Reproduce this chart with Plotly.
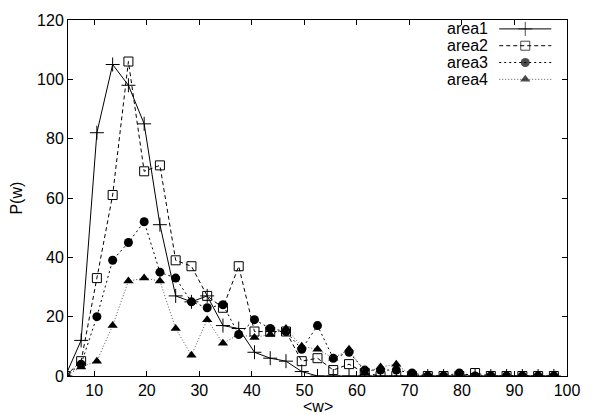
import plotly.graph_objects as go

# ---- data ----
w = [4.5, 7.5, 10.5, 13.5, 16.5, 19.5, 22.5, 25.5, 28.5, 31.5, 34.5, 37.5, 40.5, 43.5,
     46.5, 49.5, 52.5, 55.5, 58.5, 61.5, 64.5, 67.5, 70.5, 73.5, 76.5, 79.5, 82.5,
     85.5, 88.5, 91.5, 94.5, 97.5]
area1 = [0, 12, 82, 105, 98, 85, 51, 27, 25, 27, 17, 16, 8, 6, 5, 1.5, 0, 0, 0, 0,
         0, 0, 0, 0, 0, 0, 0, 0, 0, 0, 0, 0]
area2 = [0, 5, 33, 61, 106, 69, 71, 39, 37, 27, 23, 37, 15, 15, 15, 5, 6, 2, 4, 1,
         0, 0, 0, 0, 0, 0, 1, 0, 0, 0, 0, 0]
area3 = [0, 4, 20, 39, 45, 52, 35, 33, 25, 23, 24, 14, 19, 16, 15, 9, 17, 6, 8, 2,
         2, 2, 1, 0, 0, 1, 0, 0, 0, 0, 0, 0]
area4 = [0, 3, 5, 17, 32, 33, 32, 16, 7, 19, 11, 14, 13, 14, 16, 10, 9, 6, 9, 1,
         3, 4, 0, 0, 0, 0, 0, 0, 0, 0, 0, 0]
names = ["area1", "area2", "area3", "area4"]
xticks = [10, 20, 30, 40, 50, 60, 70, 80, 90, 100]
yticks = [0, 20, 40, 60, 80, 100, 120]

# ---- styles ----
styles = [
    dict(dash="solid", color="black", width=1, symbol="cross-thin-open", msize=10, mline=1),
    dict(dash="4px,3px", color="black", width=1, symbol="square-open", msize=9, mline=1),
    dict(dash="2px,3px", color="black", width=1, symbol="circle", msize=9, mline=0),
    dict(dash="1px,2px", color="#555555", width=1, symbol="triangle-up", msize=9, mline=0),
]
series = [area1, area2, area3, area4]

L, R, T, B = 68, 576, 16, 376
FS = 16
fig = go.Figure()
for name, ys, st in zip(names, series, styles):
    fig.add_trace(go.Scatter(
        x=w, y=ys, mode="lines+markers", name=name, showlegend=False,
        line=dict(color=st["color"], width=st["width"], dash=st["dash"]),
        marker=dict(symbol=st["symbol"], size=st["msize"], color="black",
                    line=dict(color="black", width=st["mline"])),
    ))

# gnuplot-style key (text, then sample) drawn on a pixel overlay axis
key_y0, key_dy = 25, 17
key_text_right, key_x0, key_x1 = 498, 507, 560
for i, (name, st) in enumerate(zip(names, styles)):
    yy = key_y0 + i * key_dy
    fig.add_trace(go.Scatter(
        x=[key_x0, (key_x0 + key_x1) / 2, key_x1], y=[yy, yy, yy],
        xaxis="x2", yaxis="y2", mode="lines+markers", showlegend=False, hoverinfo="skip",
        line=dict(color=st["color"], width=st["width"], dash=st["dash"]),
        marker=dict(symbol=st["symbol"], size=[0, st["msize"], 0], color="black",
                    line=dict(color="black", width=st["mline"])),
    ))
    fig.add_annotation(x=key_text_right, y=yy, xref="x2", yref="y2", text=name,
                       showarrow=False, xanchor="right", yanchor="middle",
                       font=dict(size=FS, color="black"))

axis_common = dict(showgrid=False, zeroline=False, showline=True, linecolor="black",
                   linewidth=1, mirror="allticks", ticks="inside", ticklen=5,
                   tickcolor="black", tickfont=dict(size=FS, color="black"),
                   ticklabeloverflow="allow")
fig.update_layout(
    width=592, height=415,
    margin=dict(l=L, r=592 - R, t=T, b=415 - B),
    paper_bgcolor="white", plot_bgcolor="white",
    font=dict(family="Liberation Sans, Arial, sans-serif", color="black"),
    xaxis=dict(range=[5, 100], tickvals=xticks, **axis_common),
    yaxis=dict(range=[0, 120], tickvals=yticks, **axis_common),
    xaxis2=dict(overlaying="x", range=[L, R], visible=False, fixedrange=True),
    yaxis2=dict(overlaying="y", range=[B, T], visible=False, fixedrange=True),
)
fig.add_annotation(text="&lt;w&gt;", xref="paper", yref="paper", x=0.5, y=-0.087,
                   showarrow=False, xanchor="center", yanchor="middle",
                   font=dict(size=FS, color="black"))
fig.add_annotation(text="P(w)", xref="paper", yref="paper", x=-0.105, y=0.5,
                   showarrow=False, textangle=-90, xanchor="center", yanchor="middle",
                   font=dict(size=FS, color="black"))

fig.write_html("out.html")
